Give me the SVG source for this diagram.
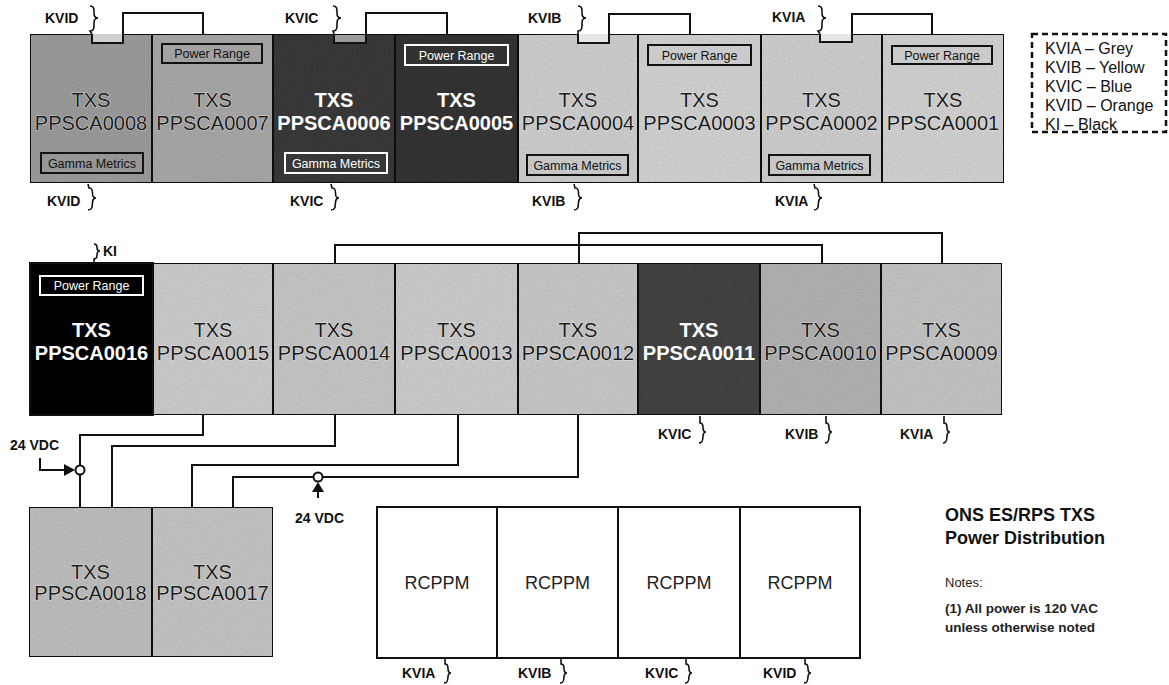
<svg xmlns="http://www.w3.org/2000/svg" width="1169" height="685" viewBox="0 0 1169 685">
<style>
  text{font-family:"Liberation Sans",Arial,sans-serif}
  .box{stroke:#111;stroke-width:2}
  .mt{font-size:20px;text-anchor:middle;fill:#1a1a1a;stroke:#fff;stroke-width:0.6;paint-order:stroke}
  .mw{font-size:20px;text-anchor:middle;fill:#fff;font-weight:bold}
  .tag{fill:none;stroke:#111;stroke-width:2}
  .tagw{fill:none;stroke:#fff;stroke-width:2}
  .tt{font-size:12.5px;text-anchor:middle;fill:#111}
  .ttw{font-size:12.5px;text-anchor:middle;fill:#fff}
  .lbl{font-size:14px;font-weight:bold;fill:#111}
  .wire{fill:none;stroke:#111;stroke-width:2}
  .brace{fill:none;stroke:#111;stroke-width:1.6}
  .rc{fill:#fff;stroke:#111;stroke-width:2}
  .rct{font-size:18px;text-anchor:middle;fill:#222}
  .leg{font-size:16px;fill:#111}
</style>
<defs>
  <filter id="tex" x="0" y="0" width="100%" height="100%">
    <feTurbulence type="fractalNoise" baseFrequency="0.75" numOctaves="2" seed="4" result="n"/>
    <feColorMatrix in="n" type="matrix" values="0.33 0.33 0.33 0 0  0.33 0.33 0.33 0 0  0.33 0.33 0.33 0 0  0 0 0 0 1" result="g"/>
    <feComponentTransfer in="g" result="g2">
      <feFuncR type="linear" slope="0.7" intercept="0.6"/>
      <feFuncG type="linear" slope="0.7" intercept="0.6"/>
      <feFuncB type="linear" slope="0.7" intercept="0.6"/>
    </feComponentTransfer>
    <feBlend in="SourceGraphic" in2="g2" mode="multiply" result="b"/>
    <feComposite in="b" in2="SourceGraphic" operator="in"/>
  </filter>
</defs>

<!-- Top row -->
<g id="PPSCA0008"><rect class="box" x="30" y="34" width="122" height="149" fill="#9a9a9a" filter="url(#tex)"/><rect x="92" y="34" width="31" height="9" fill="#d0d0d0"/><text class="mt" x="91" y="107">TXS</text><text class="mt" x="91" y="130">PPSCA0008</text><rect class="tag" x="41" y="153" width="102" height="20"/><text class="tt" x="92" y="167.5">Gamma Metrics</text></g>
<g id="PPSCA0007"><rect class="box" x="152" y="34" width="121" height="149" fill="#a6a6a6" filter="url(#tex)"/><rect class="tag" x="162" y="44" width="100" height="19"/><text class="tt" x="212" y="58">Power Range</text><text class="mt" x="212.5" y="107">TXS</text><text class="mt" x="212.5" y="130">PPSCA0007</text></g>
<g id="PPSCA0006"><rect class="box" x="273" y="34" width="122" height="149" fill="#383838" filter="url(#tex)"/><rect x="334" y="35" width="32" height="8" fill="#9a9a9a"/><text class="mw" x="334" y="107">TXS</text><text class="mw" x="334" y="130">PPSCA0006</text><rect class="tagw" x="285" y="153" width="102" height="20"/><text class="ttw" x="336" y="167.5">Gamma Metrics</text></g>
<g id="PPSCA0005"><rect class="box" x="395" y="34" width="123" height="149" fill="#333333" filter="url(#tex)"/><rect class="tagw" x="405" y="45" width="103" height="20"/><text class="ttw" x="456.5" y="59.5">Power Range</text><text class="mw" x="456.5" y="107">TXS</text><text class="mw" x="456.5" y="130">PPSCA0005</text></g>
<g id="PPSCA0004"><rect class="box" x="518" y="34" width="120" height="149" fill="#cccccc" filter="url(#tex)"/><rect x="578" y="34" width="31" height="9" fill="#e6e6e6"/><text class="mt" x="578" y="107">TXS</text><text class="mt" x="578" y="130">PPSCA0004</text><rect class="tag" x="527" y="155" width="101" height="20"/><text class="tt" x="577.5" y="169.5">Gamma Metrics</text></g>
<g id="PPSCA0003"><rect class="box" x="638" y="34" width="123" height="149" fill="#d0d0d0" filter="url(#tex)"/><rect class="tag" x="648" y="45" width="103" height="20"/><text class="tt" x="699.5" y="59.5">Power Range</text><text class="mt" x="699.5" y="107">TXS</text><text class="mt" x="699.5" y="130">PPSCA0003</text></g>
<g id="PPSCA0002"><rect class="box" x="761" y="34" width="121" height="149" fill="#cccccc" filter="url(#tex)"/><rect x="820" y="34" width="32" height="8" fill="#e6e6e6"/><text class="mt" x="821.5" y="107">TXS</text><text class="mt" x="821.5" y="130">PPSCA0002</text><rect class="tag" x="769" y="155" width="101" height="20"/><text class="tt" x="819.5" y="169.5">Gamma Metrics</text></g>
<g id="PPSCA0001"><rect class="box" x="882" y="34" width="122" height="149" fill="#d0d0d0" filter="url(#tex)"/><rect class="tag" x="892" y="46" width="100" height="18"/><text class="tt" x="942" y="59.5">Power Range</text><text class="mt" x="943" y="107">TXS</text><text class="mt" x="943" y="130">PPSCA0001</text></g>

<!-- Legend -->
<g id="legend"><rect x="1032" y="34" width="134" height="98" fill="#fff" stroke="#111" stroke-width="2.5" stroke-dasharray="6,4"/>
<text class="leg" x="1045" y="54">KVIA – Grey</text><text class="leg" x="1045" y="73">KVIB – Yellow</text><text class="leg" x="1045" y="92">KVIC – Blue</text><text class="leg" x="1045" y="111">KVID – Orange</text><text class="leg" x="1045" y="130">KI – Black</text></g>

<!-- Middle row -->
<g id="PPSCA0016"><rect class="box" x="30" y="263" width="123" height="152" fill="#000"/><rect class="tagw" x="40" y="276" width="103" height="19"/><text class="ttw" x="91.5" y="290">Power Range</text><text class="mw" x="91.5" y="337">TXS</text><text class="mw" x="91.5" y="360">PPSCA0016</text></g>
<g id="PPSCA0015"><rect class="box" x="153" y="263" width="120" height="152" fill="#cacaca" filter="url(#tex)"/><text class="mt" x="213" y="337">TXS</text><text class="mt" x="213" y="360">PPSCA0015</text></g>
<g id="PPSCA0014"><rect class="box" x="273" y="263" width="122" height="152" fill="#c4c4c4" filter="url(#tex)"/><text class="mt" x="334" y="337">TXS</text><text class="mt" x="334" y="360">PPSCA0014</text></g>
<g id="PPSCA0013"><rect class="box" x="395" y="263" width="123" height="152" fill="#cacaca" filter="url(#tex)"/><text class="mt" x="456.5" y="337">TXS</text><text class="mt" x="456.5" y="360">PPSCA0013</text></g>
<g id="PPSCA0012"><rect class="box" x="518" y="263" width="120" height="152" fill="#c6c6c6" filter="url(#tex)"/><text class="mt" x="578" y="337">TXS</text><text class="mt" x="578" y="360">PPSCA0012</text></g>
<g id="PPSCA0011"><rect class="box" x="638" y="263" width="122" height="152" fill="#424242" filter="url(#tex)"/><text class="mw" x="699" y="337">TXS</text><text class="mw" x="699" y="360">PPSCA0011</text></g>
<g id="PPSCA0010"><rect class="box" x="760" y="263" width="121" height="152" fill="#b0b0b0" filter="url(#tex)"/><text class="mt" x="820.5" y="337">TXS</text><text class="mt" x="820.5" y="360">PPSCA0010</text></g>
<g id="PPSCA0009"><rect class="box" x="881" y="263" width="121" height="152" fill="#c2c2c2" filter="url(#tex)"/><text class="mt" x="941.5" y="337">TXS</text><text class="mt" x="941.5" y="360">PPSCA0009</text></g>

<!-- Bottom row -->
<g id="PPSCA0018"><rect class="box" x="29" y="507" width="123" height="150" fill="#bcbcbc" filter="url(#tex)"/><text class="mt" x="90.5" y="579">TXS</text><text class="mt" x="90.5" y="600">PPSCA0018</text></g>
<g id="PPSCA0017"><rect class="box" x="152" y="507" width="121" height="150" fill="#c2c2c2" filter="url(#tex)"/><text class="mt" x="212.5" y="579">TXS</text><text class="mt" x="212.5" y="600">PPSCA0017</text></g>
<g id="RCPPM1"><rect class="rc" x="377" y="507" width="120" height="151"/><text class="rct" x="437" y="589">RCPPM</text></g>
<g id="RCPPM2"><rect class="rc" x="497" y="507" width="121" height="151"/><text class="rct" x="557.5" y="589">RCPPM</text></g>
<g id="RCPPM3"><rect class="rc" x="618" y="507" width="122" height="151"/><text class="rct" x="679" y="589">RCPPM</text></g>
<g id="RCPPM4"><rect class="rc" x="740" y="507" width="120" height="151"/><text class="rct" x="800" y="589">RCPPM</text></g>

<!-- Title / notes -->
<g id="title">
<text x="945" y="521" style="font-size:18px;font-weight:bold" fill="#111">ONS ES/RPS TXS</text>
<text x="945" y="544" style="font-size:18px;font-weight:bold" fill="#111">Power Distribution</text>
<text x="945" y="587" style="font-size:13px" fill="#222">Notes:</text>
<text x="945" y="613" style="font-size:13.5px;font-weight:bold" fill="#222">(1) All power is 120 VAC</text>
<text x="945" y="632" style="font-size:13.5px;font-weight:bold" fill="#222">unless otherwise noted</text>
</g>

<!-- Connectors -->
<g id="connectors">
  <!-- top row power feeds -->
  <polyline class="wire" points="92,34 92,43 123,43 123,13 203,13 203,34"/>
  <polyline class="wire" points="334,34 334,43 366,43 366,13 447,13 447,34"/>
  <polyline class="wire" points="578,34 578,43 609,43 609,14 690,14 690,34"/>
  <polyline class="wire" points="820,34 820,42 852,42 852,14 932,14 932,34"/>
  <!-- middle row links -->
  <polyline class="wire" points="335,263 335,245 822,245 822,263"/>
  <polyline class="wire" points="579,263 579,233 942,233 942,263"/>
  <!-- bottom feeds -->
  <polyline class="wire" points="203,415 203,435 80,435 80,507"/>
  <polyline class="wire" points="335,415 335,446 112,446 112,507"/>
  <polyline class="wire" points="458,415 458,465 192,465 192,507"/>
  <polyline class="wire" points="578,415 578,477 233,477 233,507"/>
  <circle cx="80" cy="470" r="4.5" fill="#fff" stroke="#111" stroke-width="2"/>
  <circle cx="318" cy="477" r="4.5" fill="#fff" stroke="#111" stroke-width="2"/>
  <polyline class="wire" points="40,458 40,470 66,470"/>
  <polygon points="75,470 64,464 64,476" fill="#111"/>
  <line class="wire" x1="318" y1="498" x2="318" y2="490"/>
  <polygon points="318,482 312,492 324,492" fill="#111"/>
  <!-- braces (power cords) -->
  <path class="brace" d="M90,6 C98,6 90,18 98,18 C90,18 98,31 90,31 L92,34"/>
  <path class="brace" d="M333,6 C341,6 333,18 341,18 C333,18 341,31 333,31 L334,34"/>
  <path class="brace" d="M578,6 C586,6 578,18 586,18 C578,18 586,31 578,31 L578,34"/>
  <path class="brace" d="M818,6 C826,6 818,18 826,18 C818,18 826,31 818,31 L820,34"/>
  <path class="brace" d="M88,184 L89,188 C96,188 89,198 96,198 C89,198 96,210 88,210"/>
  <path class="brace" d="M331,184 L332,188 C339,188 332,198 339,198 C332,198 339,210 331,210"/>
  <path class="brace" d="M574,184 L575,188 C582,188 575,198 582,198 C575,198 582,210 574,210"/>
  <path class="brace" d="M814,184 L815,188 C822,188 815,198 822,198 C815,198 822,210 814,210"/>
  <path class="brace" d="M94,244 C100,244 94,251 100,251 C94,251 100,259 94,259 L94,263"/>
  <path class="brace" d="M700,416 L700,423 C706,423 700,432 706,432 C700,432 706,443 699,443"/>
  <path class="brace" d="M826,416 L826,423 C832,423 826,432 832,432 C826,432 832,443 825,443"/>
  <path class="brace" d="M944,416 L944,423 C950,423 944,432 950,432 C944,432 950,443 943,443"/>
  <path class="brace" d="M445,659 L445,664 C451,664 445,673 451,673 C445,673 451,683 444,683"/>
  <path class="brace" d="M561,659 L561,664 C567,664 561,673 567,673 C561,673 567,683 560,683"/>
  <path class="brace" d="M686,659 L686,664 C692,664 686,673 692,673 C686,673 692,683 685,683"/>
  <path class="brace" d="M805,659 L805,664 C811,664 805,673 811,673 C805,673 811,683 804,683"/>
</g>

<!-- KV labels -->
<g id="labels">
  <text class="lbl" x="45" y="23">KVID</text>
  <text class="lbl" x="285" y="23">KVIC</text>
  <text class="lbl" x="528" y="23">KVIB</text>
  <text class="lbl" x="772" y="22">KVIA</text>
  <text class="lbl" x="47" y="206">KVID</text>
  <text class="lbl" x="290" y="206">KVIC</text>
  <text class="lbl" x="532" y="206">KVIB</text>
  <text class="lbl" x="775" y="206">KVIA</text>
  <text class="lbl" x="103" y="256">KI</text>
  <text class="lbl" x="658" y="439">KVIC</text>
  <text class="lbl" x="785" y="439">KVIB</text>
  <text class="lbl" x="900" y="439">KVIA</text>
  <text class="lbl" x="402" y="678">KVIA</text>
  <text class="lbl" x="518" y="678">KVIB</text>
  <text class="lbl" x="645" y="678">KVIC</text>
  <text class="lbl" x="763" y="678">KVID</text>
  <text class="lbl" x="10" y="450">24 VDC</text>
  <text class="lbl" x="295" y="523">24 VDC</text>
</g>
</svg>
